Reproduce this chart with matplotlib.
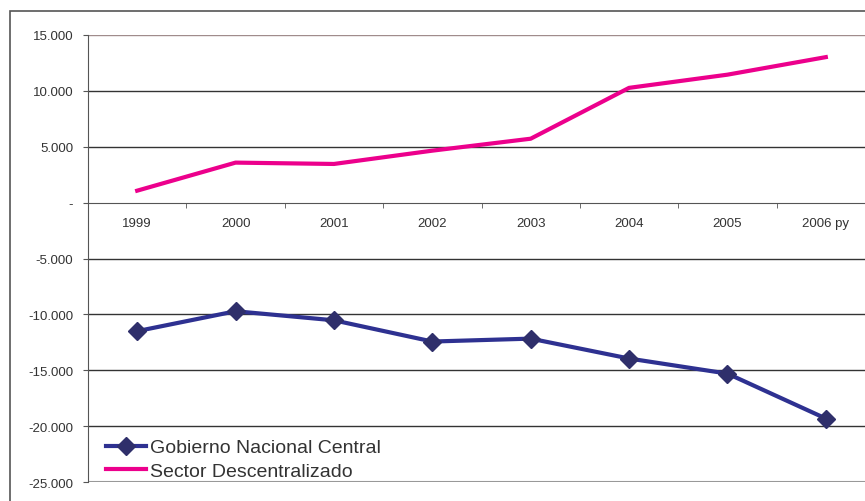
import matplotlib.pyplot as plt
from matplotlib.patches import Rectangle
from matplotlib.ticker import FuncFormatter

plt.rcParams['font.family'] = ['Liberation Sans', 'DejaVu Sans']

years = ['1999', '2000', '2001', '2002', '2003', '2004', '2005', '2006 py']
gobierno = [-11500, -9720, -10530, -12430, -12170, -13950, -15300, -19320]
sector = [1070, 3580, 3460, 4650, 5720, 10270, 11450, 13020]
yticks = [-25000, -20000, -15000, -10000, -5000, 0, 5000, 10000, 15000]

fig = plt.figure(figsize=(8.65, 5.02), dpi=100)
# outer chart frame
fig.patches.append(Rectangle((10 / 865, -0.1), 2, 1 - 12 / 502 + 0.1, transform=fig.transFigure,
                             fill=False, edgecolor='#555555', linewidth=1.2))
ax = fig.add_axes([88 / 865, 1 - 483 / 502, 787 / 865, 447 / 502])

x = list(range(len(years)))
ax.plot(x, gobierno, color='#2e3191', linewidth=3, marker='D', markersize=9,
        markerfacecolor='#2f2f6b', markeredgecolor='#2f2f6b', label='Gobierno Nacional Central')
ax.plot(x, sector, color='#ec008c', linewidth=3, label='Sector Descentralizado')

ax.set_xlim(-0.5, len(years) - 0.5)
ax.set_ylim(-25000, 15000)

# horizontal gridlines
for v in yticks:
    if v == 15000:
        ax.axhline(v, color='#a08c8c', linewidth=1, zorder=0)
    elif v == -25000:
        ax.axhline(v, color='#999999', linewidth=1.5, zorder=0)
    elif v != 0:
        ax.axhline(v, color='#333333', linewidth=1, zorder=0)

for s in ['top', 'right']:
    ax.spines[s].set_visible(False)
ax.spines['left'].set_color('#555555')
ax.spines['bottom'].set_position(('data', 0))
ax.spines['bottom'].set_color('#555555')

ax.set_yticks(yticks)
ax.yaxis.set_major_formatter(FuncFormatter(
    lambda v, p: '-' if v == 0 else f'{int(v):,}'.replace(',', '.')))
ax.tick_params(axis='y', labelsize=9.5, labelcolor='#333333', length=3.6, color='#555555', pad=7)

ax.set_xticks(x)
ax.set_xticklabels(years)
ax.set_xticks([i + 0.5 for i in x], minor=True)
ax.tick_params(axis='x', which='major', length=0, labelsize=9.5, labelcolor='#333333', pad=10)
ax.tick_params(axis='x', which='minor', length=3.6, direction='out', color='#555555')

ax.legend(loc='lower left', bbox_to_anchor=(0.0, -0.034), frameon=False, fontsize=14,
          handlelength=2.1, handletextpad=0.2, labelspacing=0.29, labelcolor='#333333')

fig.savefig('out.png', dpi=100)
